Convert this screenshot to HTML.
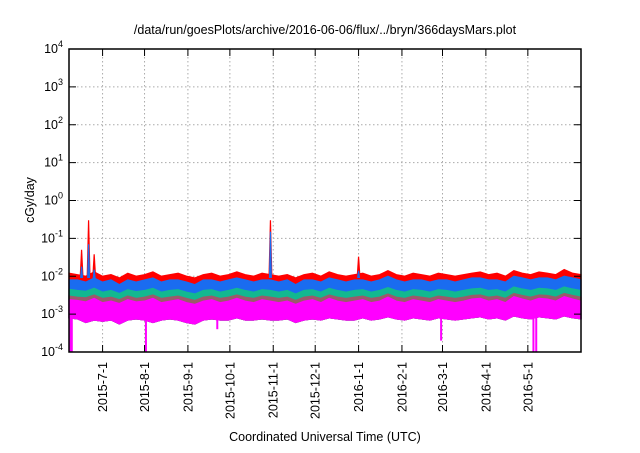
<!DOCTYPE html>
<html><head><meta charset="utf-8"><style>
body{margin:0;background:#fff}
svg{font-family:"Liberation Sans",sans-serif}
</style></head><body>
<svg id="c" width="640" height="448" viewBox="0 0 640 448">
<text x="325" y="34" font-size="12.5" text-anchor="middle">/data/run/goesPlots/archive/2016-06-06/flux/../bryn/366daysMars.plot</text>
<text transform="translate(34,200) rotate(-90)" font-size="12.5" text-anchor="middle">cGy/day</text>
<text x="325" y="441" font-size="12.5" text-anchor="middle">Coordinated Universal Time (UTC)</text>
<g id="grid"></g><g id="marks"></g><g id="axes"></g>
</svg>
<script>
const yExps=[-4,-3,-2,-1,0,1,2,3,4];
const monthLabels=["2015-7-1","2015-8-1","2015-9-1","2015-10-1","2015-11-1","2015-12-1","2016-1-1","2016-2-1","2016-3-1","2016-4-1","2016-5-1"];
const monthDays=[24,54,85,115,146,176,207,238,267,298,328];
const redTop=[12,11,10,13,10,11,9,12,10,11,13,10,11,12,10,9,11,12,10,11,13,11,10,12,11,10,11,9,11,12,10,13,11,10,11,12,10,11,14,11,10,12,11,10,12,11,10,11,12,13,11,12,10,14,12,11,13,12,11,15,12,11];
const blueTop=[8,8,7,9,7,8,6,8,7,8,9,7,8,8,7,6,8,8,7,8,9,8,7,8,8,7,8,6,8,8,7,9,8,7,8,8,7,8,10,8,7,8,8,7,8,8,7,8,9,9,8,8,7,10,9,8,9,9,8,10,9,8];
const tealTop=[4.5,4.2,4,4.8,3.8,4.2,3.5,4.4,3.9,4.2,4.8,3.8,4.2,4.4,3.8,3.4,4.2,4.4,3.8,4.2,4.8,4.2,3.8,4.4,4.2,3.8,4.2,3.4,4.2,4.4,3.8,4.8,4.2,3.8,4.2,4.4,3.8,4.2,5,4.2,3.8,4.4,4.2,3.8,4.4,4.2,3.8,4.2,4.6,4.8,4.2,4.4,3.8,5.2,4.6,4.2,4.8,4.6,4.2,5.2,4.6,4.2];
const brownTop=[3,2.8,2.7,3.2,2.6,2.8,2.4,3,2.6,2.8,3.2,2.6,2.8,3,2.6,2.3,2.8,3,2.6,2.8,3.2,2.8,2.6,3,2.8,2.6,2.8,2.3,2.8,3,2.6,3.2,2.8,2.6,2.8,3,2.6,2.8,3.4,2.8,2.6,3,2.8,2.6,3,2.8,2.6,2.8,3.1,3.2,2.8,3,2.6,3.5,3.1,2.8,3.2,3.1,2.8,3.5,3.1,2.8];
const magTop=[2.4,2.3,2.1,2.6,2,2.2,1.9,2.4,2.1,2.2,2.6,2,2.2,2.4,2,1.8,2.2,2.4,2,2.2,2.6,2.2,2,2.4,2.2,2,2.2,1.8,2.2,2.4,2,2.6,2.2,2,2.2,2.4,2,2.2,2.8,2.2,2,2.4,2.2,2,2.4,2.2,2,2.2,2.5,2.6,2.2,2.4,2,2.9,2.5,2.2,2.6,2.5,2.2,2.9,2.5,2.2];
const magBottom=[0.8,0.75,0.6,0.7,0.65,0.7,0.55,0.7,0.75,0.7,0.6,0.7,0.75,0.7,0.6,0.55,0.7,0.75,0.7,0.7,0.8,0.7,0.7,0.75,0.7,0.7,0.75,0.6,0.7,0.75,0.7,0.8,0.75,0.7,0.7,0.8,0.7,0.75,0.85,0.75,0.7,0.8,0.75,0.7,0.8,0.75,0.7,0.75,0.8,0.85,0.75,0.8,0.7,0.9,0.8,0.75,0.85,0.8,0.75,0.9,0.8,0.75];
const spikeDays=[9,14,18,144,207];
const spikeRed=[50,300,38,300,33];
const spikeBlue=[18,70,15,150,14];
const dipDays=[1,2,55,106,266,332,334];
const dipVals=[0.1,0.1,0.1,0.4,0.2,0.1,0.1];
const L=69,R=581,T=49,B=352,D0=-4,D1=4,NDAYS=366;
const X=d=>L+(d/NDAYS)*(R-L);
const Y=v=>B-(Math.log10(v)-D0)/(D1-D0)*(B-T);
const NS="http://www.w3.org/2000/svg";
function mk(t,a,p){const e=document.createElementNS(NS,t);for(const k in a)e.setAttribute(k,a[k]);p.appendChild(e);return e;}
const grid=document.getElementById('grid'),marks=document.getElementById('marks'),axes=document.getElementById('axes');
yExps.forEach(e=>{const y=Y(Math.pow(10,e));
 if(e>D0&&e<D1){const g=mk('line',{x1:L,x2:R,y1:y,y2:y,stroke:'#aaa','stroke-dasharray':'1.5,2.5','stroke-width':1},grid);
 
 }
 mk('line',{x1:L,x2:L+7,y1:y,y2:y,stroke:'#000'},axes);mk('line',{x1:R-7,x2:R,y1:y,y2:y,stroke:'#000'},axes);
 const t=mk('text',{x:L-6,y:y+4,'font-size':'12.5','text-anchor':'end'},axes);
 
 
 t.innerHTML='10<tspan dy="-6" font-size="9">'+e+'</tspan>';});
monthDays.forEach((d,i)=>{const x=X(d);
 const g=mk('line',{x1:x,x2:x,y1:T,y2:B,stroke:'#aaa','stroke-dasharray':'1.5,2.5'},grid);
 
 
 mk('line',{x1:x,x2:x,y1:B,y2:B-7,stroke:'#000'},axes);mk('line',{x1:x,x2:x,y1:T,y2:T+7,stroke:'#000'},axes);
 const t=mk('text',{transform:`translate(${x+4.5},362) rotate(-90)`,'font-size':'12.5','text-anchor':'end'},axes);
 
 
 t.textContent=monthLabels[i];});
function band(top,bot,col,name){const n=top.length,s=NDAYS/(n-1);let p=[];
 for(let i=0;i<n;i++)p.push(X(i*s)+','+Y(top[i]/1000));
 for(let i=n-1;i>=0;i--)p.push(X(i*s)+','+Y(bot[i]/1000));
 const e=mk('polygon',{points:p.join(' '),fill:col,stroke:col,'stroke-width':1.2},marks);
 
 }
function spikes(vals,col,name,w){spikeDays.forEach((d,i)=>{const x=X(d);
 const e=mk('polygon',{points:`${x-w},${Y(0.009)} ${x-0.6},${Y(vals[i]/1000)} ${x+0.6},${Y(vals[i]/1000)} ${x+w},${Y(0.009)}`,fill:col},marks);
 
 });}
band(redTop,magBottom,'#ff0000','series-red');spikes(spikeRed,'#ff0000','spike-red',2);
band(blueTop,magBottom,'#1a6cf0','series-blue');spikes(spikeBlue,'#1a6cf0','spike-blue',1.5);
band(tealTop,magBottom,'#12b890','series-teal');
band(brownTop,magBottom,'#9a5a6a','series-brown');
band(magTop,magBottom,'#ff00ff','series-magenta');
dipDays.forEach((d,i)=>{const x=X(d);
 const e=mk('rect',{x:x-1,y:Y(0.0008),width:2,height:Y(dipVals[i]/1000)-Y(0.0008),fill:'#ff00ff'},marks);
 
 });
const f=mk('rect',{x:L,y:T,width:R-L,height:B-T,fill:'none',stroke:'#000','stroke-width':1.5},axes);


</script>
</body></html>
